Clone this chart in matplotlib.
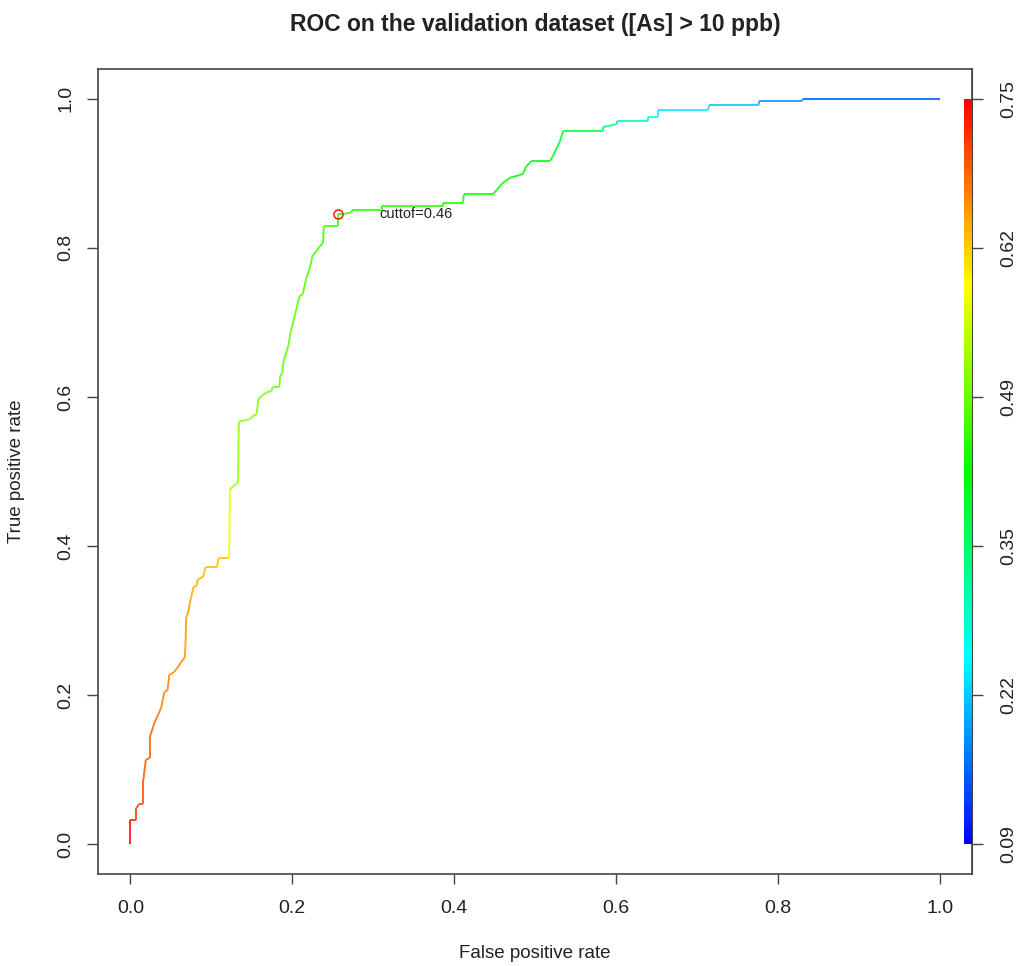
import numpy as np
import matplotlib
matplotlib.use("Agg")
import matplotlib.pyplot as plt
from matplotlib.collections import LineCollection
from matplotlib.colors import ListedColormap, Normalize, hsv_to_rgb
from matplotlib.cm import ScalarMappable

plt.rcParams['font.family'] = ['Liberation Sans', 'DejaVu Sans']

# ROC curve vertices
fpr = [0.000, 0.000, 0.007, 0.007, 0.011, 0.016, 0.016, 0.019, 0.024, 0.024,
       0.028, 0.030, 0.034, 0.038, 0.040, 0.042, 0.046, 0.048, 0.054, 0.059,
       0.063, 0.067, 0.068, 0.069, 0.071, 0.073, 0.075, 0.078, 0.082, 0.083,
       0.090, 0.093, 0.107, 0.109, 0.122, 0.123, 0.127, 0.133, 0.134, 0.147,
       0.151, 0.156, 0.158, 0.162, 0.168, 0.174, 0.176, 0.184, 0.185, 0.188,
       0.189, 0.195, 0.198, 0.200, 0.209, 0.213, 0.217, 0.222, 0.225, 0.230,
       0.234, 0.238, 0.239, 0.256, 0.256, 0.262, 0.274, 0.274, 0.311, 0.311,
       0.386, 0.386, 0.411, 0.412, 0.448, 0.460, 0.469, 0.485, 0.489, 0.496,
       0.519, 0.522, 0.530, 0.535, 0.584, 0.584, 0.601, 0.601, 0.640, 0.640,
       0.652, 0.652, 0.714, 0.715, 0.776, 0.777, 0.830, 0.831, 1.000]
tpr = [0.000, 0.032, 0.032, 0.048, 0.054, 0.054, 0.086, 0.113, 0.116, 0.144,
       0.157, 0.164, 0.173, 0.183, 0.194, 0.204, 0.207, 0.227, 0.231, 0.238,
       0.245, 0.250, 0.265, 0.305, 0.308, 0.321, 0.331, 0.345, 0.347, 0.355,
       0.359, 0.372, 0.372, 0.384, 0.384, 0.476, 0.480, 0.485, 0.567, 0.570,
       0.574, 0.577, 0.597, 0.601, 0.606, 0.608, 0.613, 0.613, 0.628, 0.633,
       0.647, 0.668, 0.687, 0.695, 0.735, 0.738, 0.758, 0.774, 0.789, 0.796,
       0.802, 0.807, 0.829, 0.829, 0.845, 0.845, 0.848, 0.851, 0.851, 0.856,
       0.856, 0.860, 0.860, 0.872, 0.872, 0.887, 0.894, 0.899, 0.909, 0.917,
       0.917, 0.923, 0.941, 0.957, 0.957, 0.962, 0.966, 0.970, 0.970, 0.976,
       0.976, 0.985, 0.985, 0.991, 0.991, 0.997, 0.997, 1.000, 1.000]
# cutoff at each vertex, estimated from the curve colour
cutoff = [0.75, 0.74,
          0.72, 0.71, 0.71, 0.70, 0.70, 0.69, 0.69, 0.69,
          0.68, 0.68, 0.68, 0.67, 0.67, 0.67, 0.67, 0.66, 0.66, 0.66, 0.66, 0.66,
          0.65, 0.65, 0.65, 0.65, 0.64, 0.64, 0.64, 0.64, 0.63, 0.63, 0.63, 0.62, 0.62,
          0.52, 0.52, 0.52, 0.51, 0.51, 0.51, 0.50, 0.50, 0.50, 0.50, 0.49, 0.49, 0.49, 0.49, 0.48,
          0.48, 0.48, 0.48, 0.48, 0.47, 0.47, 0.47, 0.47, 0.47, 0.46, 0.46, 0.46, 0.46, 0.46, 0.46,
          0.46, 0.46, 0.45, 0.45, 0.45, 0.45, 0.44, 0.44, 0.43, 0.43, 0.43, 0.42, 0.42, 0.42,
          0.41, 0.41, 0.40, 0.40, 0.39,
          0.36, 0.35, 0.33, 0.32, 0.29, 0.28, 0.26, 0.25,
          0.24, 0.23, 0.21, 0.20, 0.18, 0.16, 0.14]

best_fpr = 0.256
best_tpr = 0.845
best_cutoff = 0.46

cut_min = 0.09
cut_max = 0.75
x_ticks = [0.0, 0.2, 0.4, 0.6, 0.8, 1.0]
y_ticks = [0.0, 0.2, 0.4, 0.6, 0.8, 1.0]

TXT = '#222222'
EDGE = '#444444'

# R style rainbow palette, blue (low) -> red (high)
hues = np.linspace(2 / 3, 0, 256)
rainbow = ListedColormap(hsv_to_rgb(np.column_stack([hues, np.ones(256), np.ones(256)])))
norm = Normalize(vmin=cut_min, vmax=cut_max)

fig = plt.figure(figsize=(10.2, 9.66), dpi=100)
ax = fig.add_axes([0.0961, 0.0952, 0.953 - 0.0961, 0.9286 - 0.0952])

pts = np.column_stack([fpr, tpr])
segs = np.stack([pts[:-1], pts[1:]], axis=1)
seg_cut = (np.array(cutoff[:-1]) + np.array(cutoff[1:])) / 2
seg_col = rainbow(norm(seg_cut))
# the scanned curve looks a little washed out
seg_col[:, :3] = seg_col[:, :3] * 0.85 + 0.15
lc = LineCollection(segs, colors=seg_col, linewidths=1.4)
ax.add_collection(lc)

ax.plot(best_fpr, best_tpr, 'o', ms=6.5, mfc='none', mec='red', mew=1)
ax.text(0.308, best_tpr, f'cuttof={best_cutoff}', fontsize=10.5, color=TXT,
        ha='left', va='center')

ax.set_xlim(-0.04, 1.04)
ax.set_ylim(-0.04, 1.04)
ax.set_xticks(x_ticks)
ax.set_xticklabels([f'{v:.1f}' for v in x_ticks])
ax.set_yticks(y_ticks)
ax.set_yticklabels([f'{v:.1f}' for v in y_ticks], rotation=90, va='center')
ax.tick_params(axis='x', length=7, width=1, color=EDGE, labelsize=14, labelcolor=TXT, pad=12)
ax.tick_params(axis='y', length=8, width=1, color=EDGE, labelsize=14, labelcolor=TXT, pad=9)
for s in ax.spines.values():
    s.set_color(EDGE)
    s.set_linewidth(1.2)

ax.set_xlabel('False positive rate', fontsize=13.5, color=TXT, labelpad=20)
ax.set_ylabel('True positive rate', fontsize=13.5, color=TXT, labelpad=23)
ax.set_title('ROC on the validation dataset ([As] > 10 ppb)', fontsize=16.5,
             fontweight='bold', color=TXT, pad=27)

# colour bar inside the right edge of the box
cax = ax.inset_axes([1.0297, 0.0, 0.0103, 1.0], transform=ax.transData)
cb = fig.colorbar(ScalarMappable(norm=norm, cmap=rainbow), cax=cax)
cb.outline.set_visible(False)
cax.set_yticks([])
cax.set_xticks([])

sec = ax.secondary_yaxis('right', functions=(lambda y: cut_min + y * (cut_max - cut_min),
                                              lambda c: (c - cut_min) / (cut_max - cut_min)))
cb_ticks = np.linspace(cut_min, cut_max, 6)
sec.set_yticks(cb_ticks)
sec.set_yticklabels([f'{v:.2f}' for v in cb_ticks], rotation=90, va='center')
sec.tick_params(length=8, width=1, color=EDGE, labelsize=14, labelcolor=TXT, pad=12)
sec.spines['right'].set_color(EDGE)

fig.savefig('out.png', dpi=100, facecolor='white')
